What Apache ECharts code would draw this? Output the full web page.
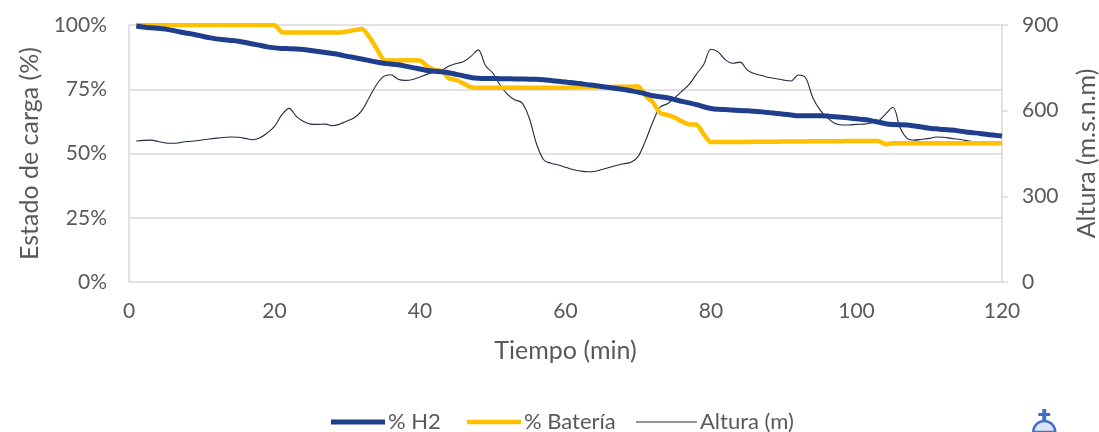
<!DOCTYPE html>
<html>
<head>
<meta charset="utf-8">
<script src="https://cdn.jsdelivr.net/npm/echarts@6/dist/echarts.min.js"></script>
<style>
  html, body { margin: 0; padding: 0; background: #ffffff; }
  #chart { width: 1099px; height: 432px; }
</style>
</head>
<body>
<div id="chart"></div>
<script>
// Tiempo de recorrido (min), one sample per minute
const tiempo = Array.from({ length: 120 }, (_, i) => i + 1);

// Estado de carga del hidrógeno (%)
const h2 = [
  99.6, 99.2, 98.9, 98.7, 98.4, 97.9, 97.3, 96.8, 96.3, 95.7,
  95.1, 94.6, 94.3, 94.0, 93.7, 93.2, 92.6, 92.1, 91.5, 91.1,
  90.9, 90.8, 90.7, 90.5, 90.1, 89.7, 89.3, 88.9, 88.4, 87.8,
  87.3, 86.8, 86.2, 85.6, 85.1, 84.8, 84.5, 84.0, 83.4, 82.9,
  82.3, 82.0, 81.8, 81.4, 80.8, 80.2, 79.6, 79.3, 79.2, 79.2,
  79.1, 79.1, 79.0, 79.0, 78.9, 78.9, 78.7, 78.4, 78.1, 77.8,
  77.5, 77.2, 76.8, 76.5, 76.1, 75.7, 75.3, 74.9, 74.4, 73.9,
  73.2, 72.5, 72.1, 71.7, 71.0, 70.3, 69.7, 69.0, 68.2, 67.5,
  67.2, 67.1, 66.9, 66.7, 66.6, 66.4, 66.2, 65.9, 65.6, 65.3,
  65.0, 64.7, 64.7, 64.7, 64.7, 64.6, 64.3, 64.1, 63.8, 63.5,
  63.2, 62.8, 62.2, 61.6, 61.3, 61.2, 61.1, 60.7, 60.3, 59.8,
  59.6, 59.3, 59.1, 58.8, 58.4, 58.1, 57.8, 57.4, 57.1, 56.8
];

// Estado de carga de la batería (%)
const bateria = [
  100, 100, 100, 100, 100, 100, 100, 100, 100, 100,
  100, 100, 100, 100, 100, 100, 100, 100, 100, 100,
  97.2, 97.1, 97.1, 97.1, 97.1, 97.1, 97.1, 97.1, 97.1, 97.5,
  98.0, 98.4, 95.5, 91.0, 86.5, 86.2, 86.2, 86.3, 86.3, 86.2,
  84.0, 82.5, 82.1, 79.2, 78.6, 77.2, 75.8, 75.6, 75.6, 75.6,
  75.6, 75.6, 75.6, 75.6, 75.6, 75.6, 75.6, 75.6, 75.6, 75.6,
  75.8, 75.8, 75.8, 75.8, 75.8, 75.8, 76.0, 76.0, 76.0, 76.2,
  72.5, 70.0, 65.8, 65.0, 64.0, 62.5, 61.3, 61.3, 57.5, 54.4,
  54.5, 54.5, 54.5, 54.5, 54.5, 54.6, 54.6, 54.6, 54.6, 54.7,
  54.7, 54.7, 54.7, 54.8, 54.8, 54.8, 54.8, 54.8, 54.9, 54.9,
  54.9, 54.9, 54.9, 53.6, 54.0, 54.0, 54.0, 54.0, 54.0, 54.0,
  54.0, 54.0, 54.0, 54.0, 54.0, 54.0, 54.0, 54.0, 54.0, 54.0
];

// Altura sobre el nivel del mar (m)
const altura = [
  494, 496, 497, 492, 487, 486, 488, 492, 494, 497,
  501, 504, 506, 508, 507, 503, 498, 505, 522, 545,
  585, 608, 580, 562, 553, 552, 553, 547, 553, 564,
  576, 600, 645, 690, 720, 726, 710, 706, 709, 718,
  728, 735, 742, 756, 765, 772, 790, 813, 758, 732,
  690, 658, 638, 628, 575, 485, 428, 416, 410, 402,
  394, 389, 386, 387, 394, 401, 408, 414, 419, 440,
  495, 560, 612, 624, 645, 668, 692, 728, 762, 815,
  805, 778, 766, 770, 742, 729, 723, 716, 712, 707,
  704, 725, 715, 645, 602, 575, 556, 550, 550, 552,
  553, 557, 564, 588, 612, 540, 502, 497, 500, 503,
  508, 507, 503, 500, 496, 492, 490, 487, 486, 486
];

const pctTicks = [0, 25, 50, 75, 100];
const alturaTicks = [0, 300, 600, 900];
const xTicks = [0, 20, 40, 60, 80, 100, 120];

const pair = (arr) => tiempo.map((t, i) => [t, arr[i]]);

const FONT = 'Lato, "Open Sans", sans-serif';
const TXT = '#595959';
const GRID = '#d9d9d9';
const C_H2 = '#1f3f8c';
const C_BAT = '#ffc000';
const C_ALT = '#1f2a44';

// Legend entries: each one its own box so the line samples can differ in length
function legendItem(name, left, width, icon) {
  return {
    data: [{ name: name, icon: icon }],
    top: 406,
    left: left,
    itemWidth: width,
    itemHeight: 14,
    symbolKeepAspect: true,
    textStyle: { fontFamily: FONT, fontSize: 22, color: TXT, padding: [0, 0, 0, -2] }
  };
}

const chart = echarts.init(document.getElementById('chart'), null, { renderer: 'canvas' });

chart.setOption({
  backgroundColor: '#ffffff',
  animation: false,
  textStyle: { fontFamily: FONT, color: TXT },
  grid: { left: 129, right: 97, top: 25, bottom: 150, containLabel: false, outerBoundsMode: 'none' },
  legend: [
    legendItem('% H2', 326, 54, 'path://M0,0H54V5H0Z'),
    legendItem('% Batería', 462, 54, 'path://M0,0H54V4.5H0Z'),
    legendItem('Altura (m)', 631, 61, 'path://M0,0H61V1.1H0Z')
  ],
  xAxis: {
    type: 'value',
    min: xTicks[0],
    max: xTicks[xTicks.length - 1],
    interval: 20,
    name: 'Tiempo (min)',
    nameLocation: 'middle',
    nameGap: 56,
    nameTextStyle: { fontFamily: FONT, fontSize: 25, color: TXT },
    axisLine: { show: false },
    axisTick: { show: false },
    splitLine: { show: false },
    axisLabel: { fontFamily: FONT, fontSize: 21, color: TXT, margin: 19 }
  },
  yAxis: [
    {
      type: 'value',
      min: pctTicks[0],
      max: pctTicks[pctTicks.length - 1],
      interval: 25,
      position: 'left',
      name: 'Estado de carga (%)',
      nameLocation: 'middle',
      nameGap: 83,
      nameTextStyle: { fontFamily: FONT, fontSize: 25, color: TXT },
      axisLine: { show: true, lineStyle: { color: GRID, width: 1.5 } },
      axisTick: { show: false },
      splitLine: { show: true, lineStyle: { color: GRID, width: 1.5 } },
      axisLabel: { fontFamily: FONT, fontSize: 21, color: TXT, margin: 22, formatter: '{value}%' }
    },
    {
      type: 'value',
      min: alturaTicks[0],
      max: alturaTicks[alturaTicks.length - 1],
      interval: 300,
      position: 'right',
      name: 'Altura (m.s.n.m)',
      nameLocation: 'middle',
      nameGap: 72,
      nameRotate: 90,
      nameTextStyle: { fontFamily: FONT, fontSize: 25, color: TXT },
      axisLine: { show: true, lineStyle: { color: GRID, width: 1.5 } },
      axisTick: { show: true, inside: false, length: 6, lineStyle: { color: GRID, width: 1.5 } },
      splitLine: { show: false },
      axisLabel: { fontFamily: FONT, fontSize: 21, color: TXT, margin: 20 }
    }
  ],
  series: [
    {
      name: 'Altura (m)',
      type: 'line',
      yAxisIndex: 1,
      data: pair(altura),
      symbol: 'none',
      smooth: 0.35,
      lineStyle: { color: C_ALT, width: 1.1 },
      itemStyle: { color: C_ALT },
      z: 1
    },
    {
      name: '% Batería',
      type: 'line',
      yAxisIndex: 0,
      data: pair(bateria),
      symbol: 'none',
      smooth: 0.2,
      lineStyle: { color: C_BAT, width: 4.5 },
      itemStyle: { color: C_BAT },
      z: 2
    },
    {
      name: '% H2',
      type: 'line',
      yAxisIndex: 0,
      data: pair(h2),
      symbol: 'none',
      smooth: 0.2,
      lineStyle: { color: C_H2, width: 5 },
      itemStyle: { color: C_H2 },
      z: 3
    }
  ],
  graphic: [
    {
      type: 'group',
      left: 1032,
      top: 409,
      children: [
        { type: 'rect', shape: { x: 9, y: 0, width: 4, height: 13 }, style: { fill: '#3f6fc6' } },
        { type: 'rect', shape: { x: 5, y: 4, width: 12, height: 3 }, style: { fill: '#3f6fc6' } },
        { type: 'sector', shape: { cx: 11, cy: 23, r: 11, r0: 0, startAngle: Math.PI, endAngle: 2 * Math.PI }, style: { fill: '#dce6f7', stroke: '#3f6fc6', lineWidth: 2.5 } }
      ]
    }
  ]
});
</script>
</body>
</html>
